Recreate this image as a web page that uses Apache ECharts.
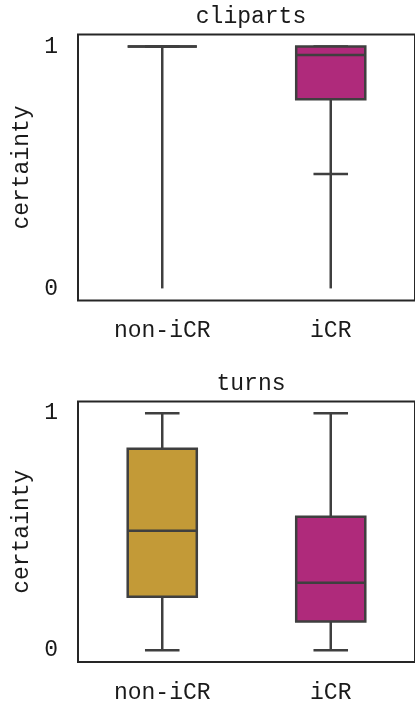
<!DOCTYPE html>
<html><head><meta charset="utf-8">
<script src="https://cdn.jsdelivr.net/npm/echarts@6/dist/echarts.min.js"></script>
<style>html,body{margin:0;padding:0;background:#fff}#c{width:415px;height:704px}</style>
</head><body><div id="c"></div>
<script>
// ---- data ----
const categories = ['non-iCR', 'iCR'];
const yTickValues = [0, 1];
const titles = ['cliparts', 'turns'];
// [low whisker, q1, median, q3, high whisker]
const clipartsStats = [[1, 1, 1, 1, 1], [0.473, 0.782, 0.965, 1.0, 1.0]];
// outlier spread [min, max] (dense fliers drawn as a vertical run)
const clipartsFliers = [[0, 1], [0, 0.47]];
const turnsStats = [[0, 0.226, 0.504, 0.85, 1], [0, 0.121, 0.285, 0.563, 1]];
const turnsFliers = [null, null];
const boxColors = ['#C39A37', '#AF2A7B'];

// ---- style ----
const FONT = "'Liberation Mono', 'DejaVu Sans Mono', monospace";
const FS = 23;
const TXT = '#1a1a1a';
const EDGE = '#3f3f3f';
const LW = 2.5;
const BOXW = 0.41;

const chart = echarts.init(document.getElementById('c'), null, {renderer: 'canvas'});

function boxRender(params, api) {
  const i = api.value(0);
  const bw = api.size([1, 0])[0] * BOXW;
  const x = api.coord([i, 0])[0];
  const y = v => api.coord([i, v])[1];
  const lo = y(api.value(1)), q1 = y(api.value(2)), med = y(api.value(3)), q3 = y(api.value(4)), hi = y(api.value(5));
  const st = {stroke: EDGE, lineWidth: LW};
  return {type: 'group', children: [
    {type: 'line', shape: {x1: x, y1: q3, x2: x, y2: hi}, style: st},
    {type: 'line', shape: {x1: x, y1: q1, x2: x, y2: lo}, style: st},
    {type: 'line', shape: {x1: x - bw / 4, y1: hi, x2: x + bw / 4, y2: hi}, style: st},
    {type: 'line', shape: {x1: x - bw / 4, y1: lo, x2: x + bw / 4, y2: lo}, style: st},
    {type: 'rect', shape: {x: x - bw / 2, y: q3, width: bw, height: q1 - q3},
      style: {fill: boxColors[i], stroke: EDGE, lineWidth: LW}},
    {type: 'line', shape: {x1: x - bw / 2, y1: med, x2: x + bw / 2, y2: med}, style: st}
  ]};
}
function flierRender(params, api) {
  const i = api.value(0);
  const p0 = api.coord([i, api.value(1)]);
  const p1 = api.coord([i, api.value(2)]);
  return {type: 'line', shape: {x1: p0[0], y1: p0[1], x2: p1[0], y2: p1[1]},
    style: {stroke: EDGE, lineWidth: LW}};
}

const gridTops = [34.5, 401.5];
const gridHeights = [266, 264];
const statsAll = [clipartsStats, turnsStats];
const fliersAll = [clipartsFliers, turnsFliers];

const grids = [], xAxes = [], yAxes = [], series = [], graphics = [];
for (let g = 0; g < 2; g++) {
  grids.push({left: 78, right: -7, top: gridTops[g], height: gridHeights[g], show: true,
    borderColor: '#262626', borderWidth: 2, backgroundColor: 'transparent'});
  xAxes.push({type: 'category', gridIndex: g, data: categories,
    axisLine: {show: false}, axisTick: {show: false}, splitLine: {show: false},
    axisLabel: {margin: 19, fontFamily: FONT, fontSize: FS, color: TXT}});
  yAxes.push({type: 'value', gridIndex: g, min: -0.05, max: 1.05,
    axisLine: {show: false}, axisTick: {show: false}, splitLine: {show: false},
    axisLabel: {customValues: yTickValues, margin: 20, fontFamily: FONT, fontSize: FS, color: TXT},
    name: 'certainty', nameLocation: 'middle', nameGap: 44, nameRotate: 90,
    nameTextStyle: {fontFamily: FONT, fontSize: FS, color: TXT}});
  const fl = [];
  fliersAll[g].forEach((f, i) => { if (f) fl.push([i, f[0], f[1]]); });
  series.push({type: 'custom', xAxisIndex: g, yAxisIndex: g, renderItem: flierRender,
    data: fl, encode: {x: 0, y: [1, 2]}, silent: true, z: 1});
  series.push({type: 'custom', xAxisIndex: g, yAxisIndex: g, renderItem: boxRender,
    data: statsAll[g].map((s, i) => [i, ...s]), encode: {x: 0, y: [1, 2, 3, 4, 5]}, silent: true, z: 2});
  graphics.push({type: 'text', x: 251, y: gridTops[g] - 18,
    style: {text: titles[g], font: FS + 'px ' + FONT, fill: TXT, align: 'center', verticalAlign: 'middle'}});
}

chart.setOption({
  animation: false,
  backgroundColor: '#fff',
  grid: grids, xAxis: xAxes, yAxis: yAxes, series: series, graphic: graphics
});
</script>
</body></html>
